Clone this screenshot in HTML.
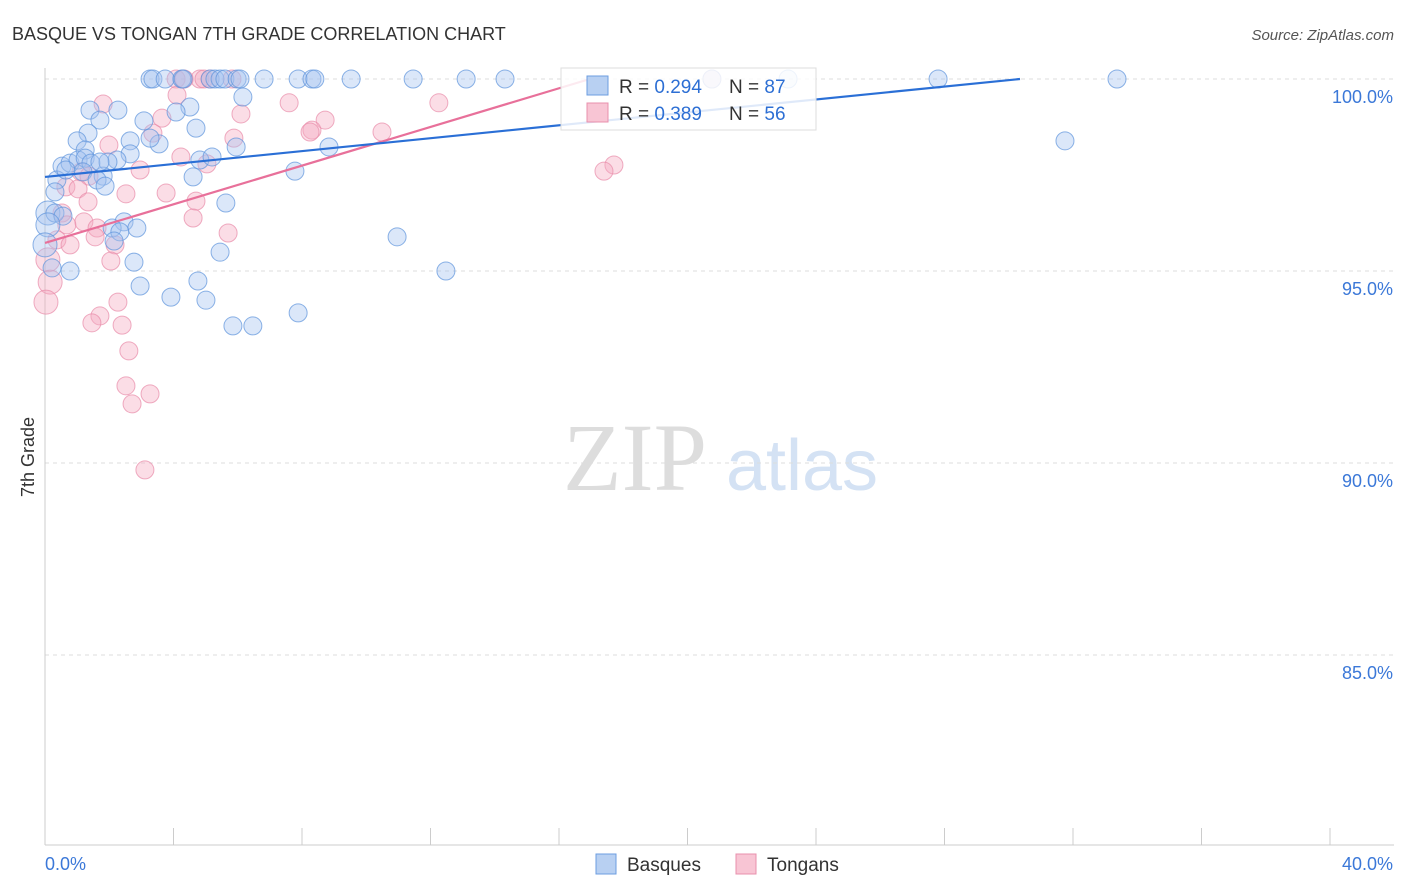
<!DOCTYPE html>
<html><head><meta charset="utf-8">
<style>
body{margin:0;background:#fff;font-family:"Liberation Sans",sans-serif;}
svg{display:block}
</style></head>
<body>
<svg id="chart" width="1406" height="892">
<text x="12" y="40" font-size="18" fill="#333">BASQUE VS TONGAN 7TH GRADE CORRELATION CHART</text>
<text x="1394" y="40" font-size="15" fill="#555" font-style="italic" text-anchor="end">Source: ZipAtlas.com</text>
<text x="34" y="457" font-size="18" fill="#333" text-anchor="middle" transform="rotate(-90 34 457)">7th Grade</text>
<g>
<text x="635" y="490" font-size="96" fill="#ddd" font-family="Liberation Serif,serif" text-anchor="middle">ZIP</text>
<text x="802" y="490" font-size="72" fill="#d4e2f4" text-anchor="middle">atlas</text>
</g>
<g id="grid"></g><g id="pts"></g><g id="lines"></g>
<g>
<rect x="561" y="68" width="255" height="62" fill="#fff" fill-opacity="0.85" stroke="#ddd"/>
<rect x="587" y="76" width="21" height="19" fill="#b8d0f2" stroke="#6c9ee0"/>
<text x="619" y="93" font-size="19" fill="#333">R = <tspan fill="#2d6fd4">0.294</tspan></text>
<text x="729" y="93" font-size="19" fill="#333">N = <tspan fill="#2d6fd4">87</tspan></text>
<rect x="587" y="103" width="21" height="19" fill="#f8c5d4" stroke="#e890ad"/>
<text x="619" y="120" font-size="19" fill="#333">R = <tspan fill="#2d6fd4">0.389</tspan></text>
<text x="729" y="120" font-size="19" fill="#333">N = <tspan fill="#2d6fd4">56</tspan></text>
</g>
<g>
<rect x="596" y="854" width="20" height="20" fill="#b8d0f2" stroke="#6c9ee0"/>
<text x="627" y="871" font-size="19" fill="#333">Basques</text>
<rect x="736" y="854" width="20" height="20" fill="#f8c5d4" stroke="#e890ad"/>
<text x="767" y="871" font-size="19" fill="#333">Tongans</text>
</g>
</svg>
<script>
const yTicks=[100,95,90,85];
const yTickLabels=["100.0%","95.0%","90.0%","85.0%"];
const xTickCount=11;
const xLabels=["0.0%","40.0%"];
const basqueX=[3.27,3.36,3.74,4.26,4.3,5.14,5.29,5.45,5.6,5.98,6.07,6.82,7.88,8.31,8.4,9.53,11.46,13.11,14.32,20.76,23.13,27.8,33.37,31.75,1.4,2.27,4.51,6.16,4.08,3.08,1.71,4.7,1.34,1.0,2.65,3.55,3.27,5.95,8.84,1.25,2.65,2.24,4.82,5.2,0.53,0.78,1.03,1.25,1.43,1.96,7.78,1.18,1.81,0.37,1.62,4.61,1.87,0.31,5.63,0.09,0.31,0.56,2.46,2.09,2.86,2.33,2.15,10.96,5.45,2.77,0.78,12.48,0.22,2.96,4.76,3.92,5.01,7.88,5.85,6.47,0.09,0,1.71,0.65];
const basqueY=[100,100,100,100,100,100,100,100,100,100,100,100,100,100,100,100,100,100,100,100,100,100,100,98.39,99.19,99.19,99.27,99.53,99.14,98.91,98.93,98.72,98.59,98.39,98.39,98.31,98.46,98.23,98.23,98.15,98.05,97.89,97.89,97.97,97.73,97.81,97.89,97.94,97.81,97.84,97.6,97.58,97.47,97.37,97.37,97.45,97.21,97.06,96.77,96.51,96.51,96.43,96.28,96.12,96.12,96.02,95.78,95.89,95.49,95.23,95.0,95.0,95.08,94.61,94.74,94.32,94.24,93.91,93.57,93.57,96.2,95.68,97.84,97.63];
const tonganX=[4.82,5.82,4.08,4.33,4.95,5.14,20.76,4.11,1.81,7.6,12.26,6.1,3.64,8.72,8.31,8.25,10.49,5.88,3.36,1.99,4.23,5.04,2.96,17.71,17.4,1.12,1.37,0.65,1.03,3.77,2.52,4.7,1.34,0.53,4.61,1.21,0.68,1.62,5.7,0.37,1.56,0.78,2.18,2.05,0.09,0.16,0.03,2.27,1.71,1.46,2.4,2.61,2.52,3.27,2.71,3.11];
const tonganY=[100,100,100,100,100,100,100,99.58,99.35,99.38,99.38,99.09,98.98,98.93,98.67,98.62,98.62,98.46,98.59,98.28,97.97,97.79,97.63,97.76,97.6,97.58,97.47,97.19,97.14,97.03,97.01,96.82,96.8,96.51,96.38,96.28,96.2,96.12,95.99,95.81,95.89,95.68,95.68,95.26,95.29,94.71,94.19,94.19,93.83,93.65,93.59,92.92,92.01,91.8,91.54,89.82];
const basqueLine=[[0,97.45],[30.35,100]];
const tonganLine=[[0,95.73],[16.96,100]];

const X=v=>45+v*32.125, Y=v=>79+(100-v)*38.4;
const NS="http://www.w3.org/2000/svg";
function mk(t,a,p){const e=document.createElementNS(NS,t);for(const k in a)e.setAttribute(k,a[k]);p.appendChild(e);return e;}
const grid=document.getElementById('grid'),pts=document.getElementById('pts'),lines=document.getElementById('lines');
yTicks.forEach((t,i)=>{
 const l=mk('line',{x1:45,x2:1394,y1:Y(t),y2:Y(t),stroke:'#ddd','stroke-dasharray':'4,4'},grid);
 
 
 const tx=mk('text',{x:1393,y:Y(t)+24,'font-size':18,fill:'#3b78d8','text-anchor':'end'},grid);
 tx.textContent=yTickLabels[i];
 
 
});
const ax=mk('line',{x1:45,x2:45,y1:68,y2:845,stroke:'#ccc'},grid);


const bx=mk('line',{x1:45,x2:1394,y1:845,y2:845,stroke:'#ccc'},grid);


for(let i=0;i<xTickCount;i++){
 const x=X(i*4);
 const t=mk('line',{x1:x,x2:x,y1:828,y2:845,stroke:'#ccc'},grid);
 
 
}
[[0,'start',xLabels[0]],[40,'end',xLabels[1]]].forEach(([v,a,s])=>{
 const t=mk('text',{x:v==0?45:1393,y:870,'font-size':18,fill:'#3b78d8','text-anchor':a},grid);
 t.textContent=s;
 
 
});
function series(xs,ys,fill,stroke,name){
 xs.forEach((x,i)=>{
  const c=mk('circle',{cx:X(x),cy:Y(ys[i]),r:x<0.2?12:9,fill:fill,'fill-opacity':0.4,stroke:stroke,'stroke-opacity':0.7,'stroke-width':1},pts);
  
  
 });
}
series(tonganX,tonganY,'#f4a9c0','#e88aa8','tongan-point');
series(basqueX,basqueY,'#a4c4ef','#5d93dc','basque-point');
function line(p,col,name){
 const l=mk('line',{x1:X(p[0][0]),y1:Y(p[0][1]),x2:X(p[1][0]),y2:Y(p[1][1]),stroke:col,'stroke-width':2.2},lines);
 
 
}
line(tonganLine,'#e8709a','tongan-trend-line');
line(basqueLine,'#2a6fd6','basque-trend-line');
</script>
</body></html>
